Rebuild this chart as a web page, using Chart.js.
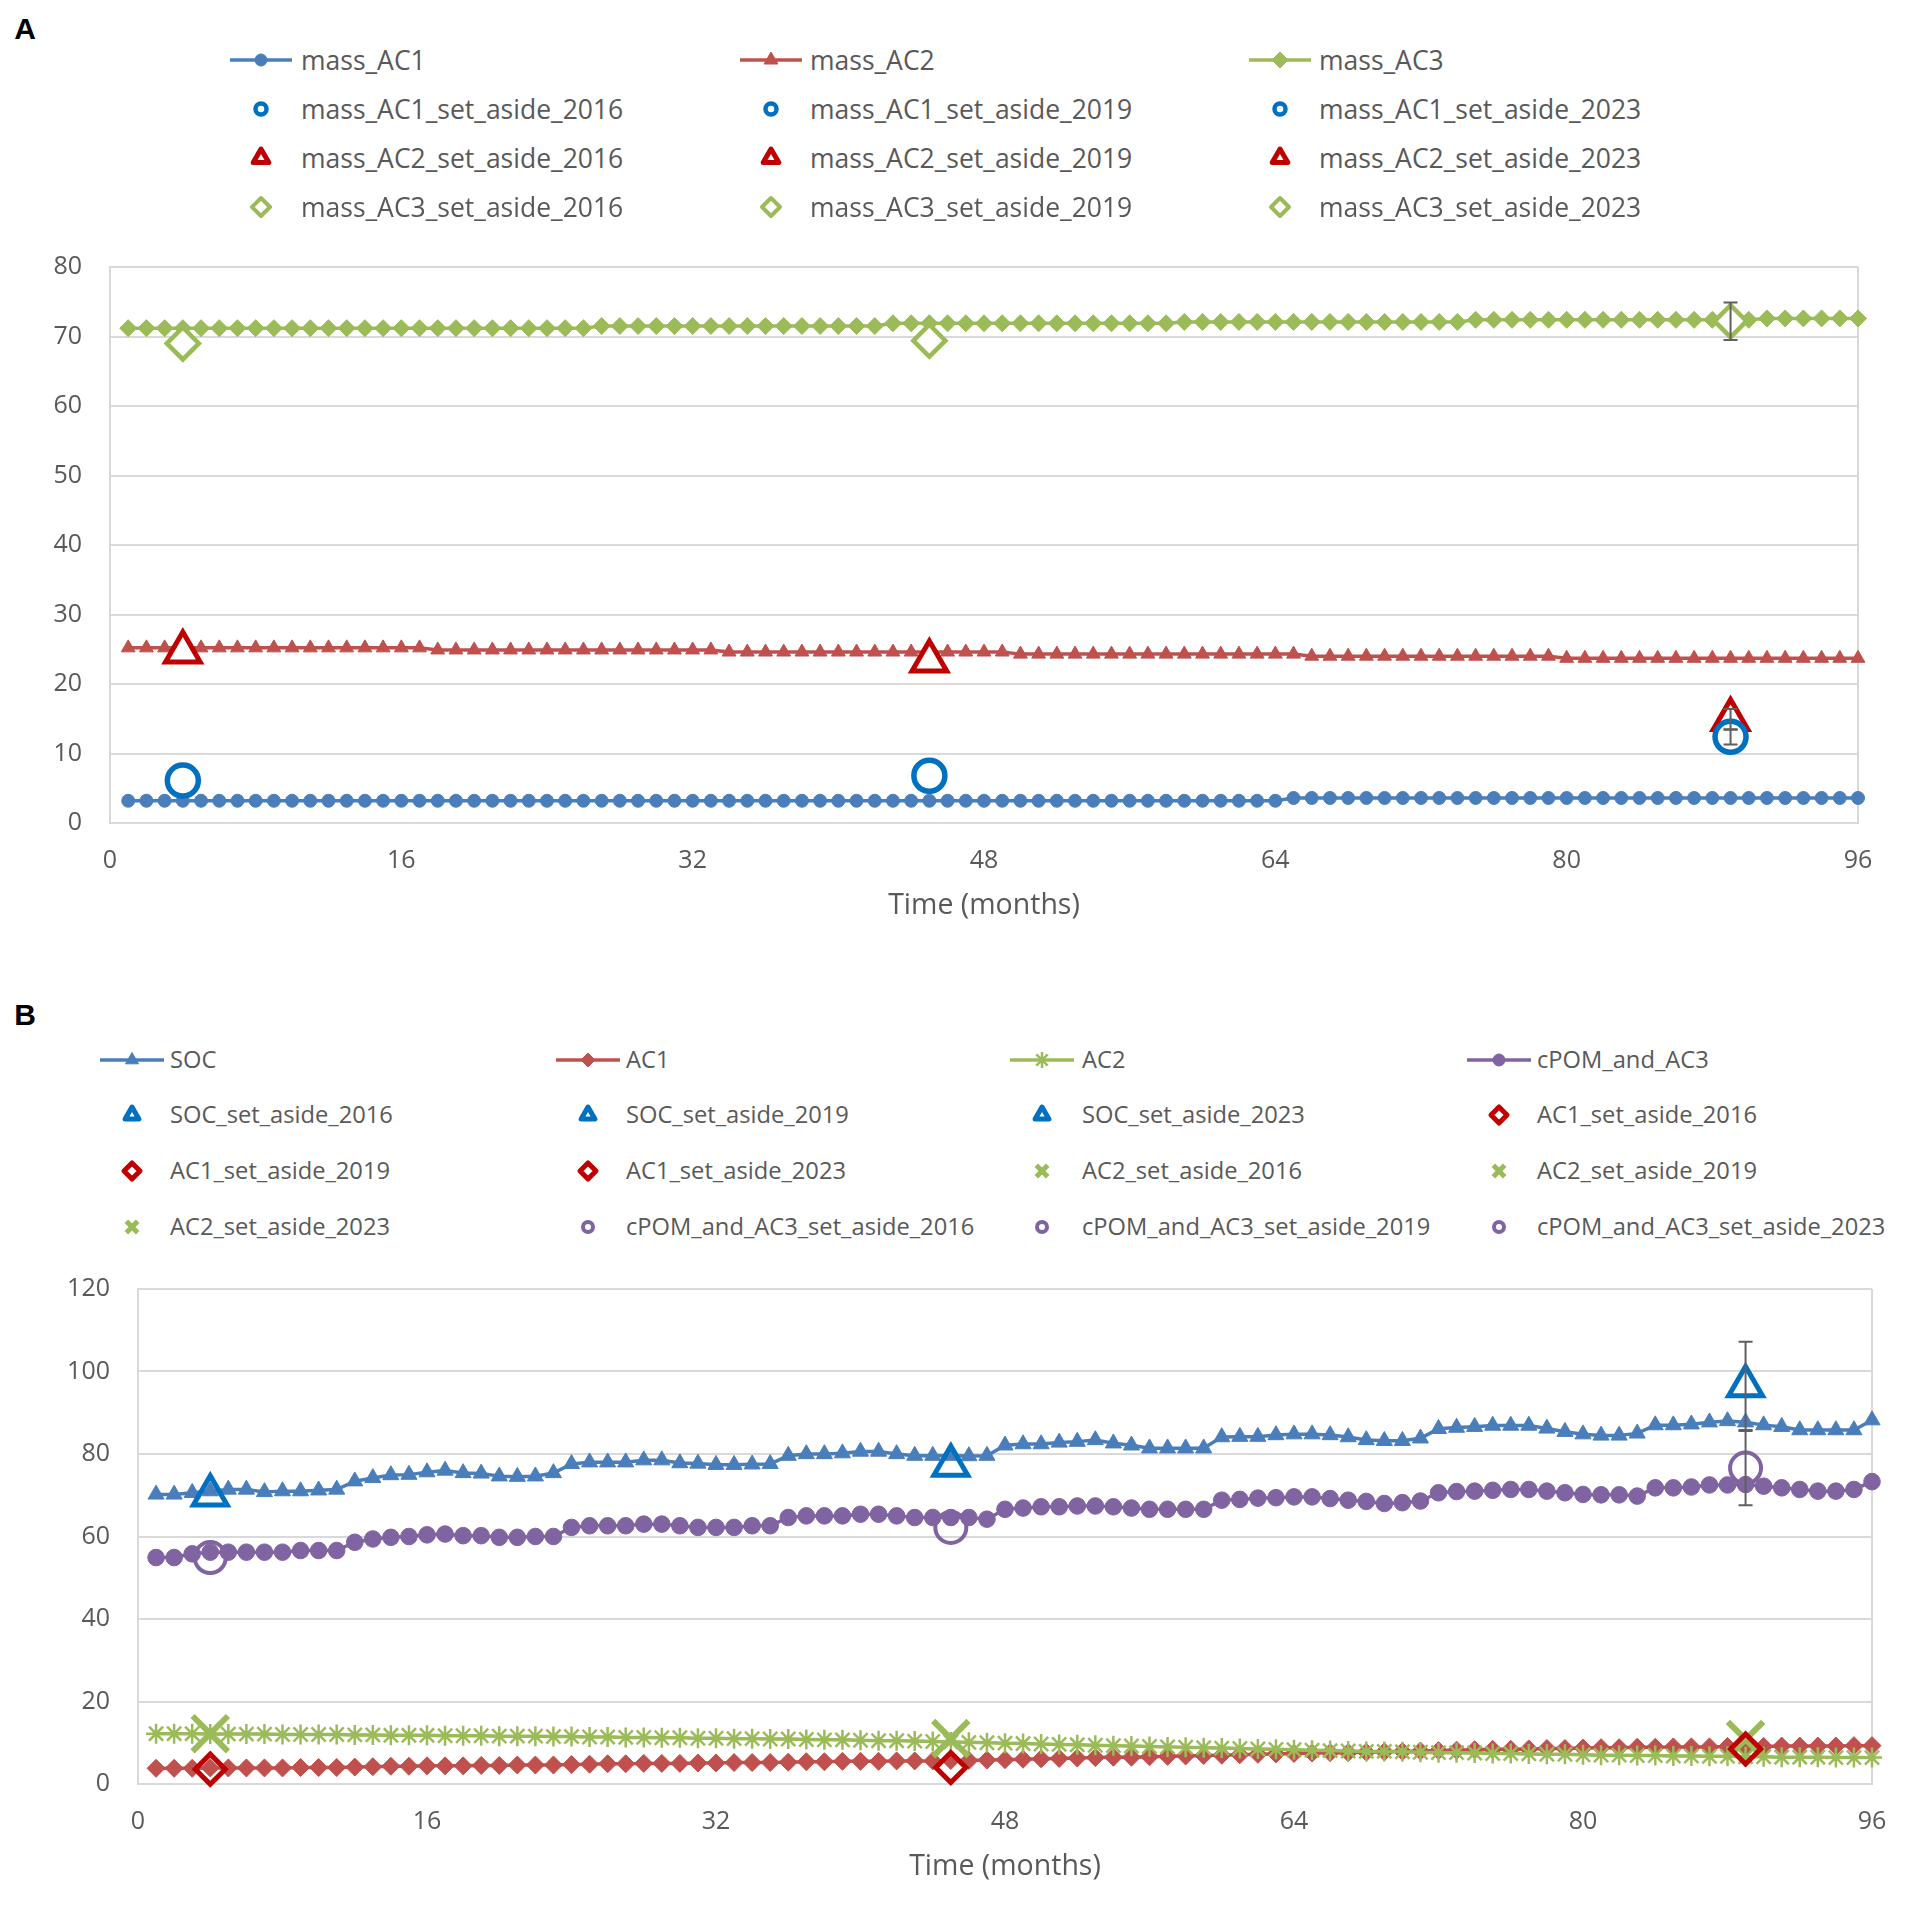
<!DOCTYPE html>
<html>
<head>
<meta charset="utf-8">
<title>Set-aside vs. modelled fractions</title>
<script src="https://cdn.jsdelivr.net/npm/chart.js@4.4.1/dist/chart.umd.min.js"></script>
<style>
  body { margin: 0; width: 1910px; height: 1906px; background: #fff; position: relative; overflow: hidden; font-family: "Open Sans", sans-serif; }
  .painel { position: absolute; font: bold 30px "Liberation Sans", Arial, sans-serif; color: #000; transform: translate(-50%, -50%); }
  canvas { position: absolute; left: 0; }
  .leg-simbolo { position: absolute; }
  .leg-texto { position: absolute; color: #595959; white-space: nowrap; line-height: 1; transform: translateY(-50%); }
</style>
</head>
<body>
<div class="painel" style="left:25px;top:29px">A</div>
<div class="painel" style="left:25px;top:1015px">B</div>
<canvas id="chartA" width="1910" height="699" style="top:224px"></canvas>
<canvas id="chartB" width="1910" height="638" style="top:1246px"></canvas>
<div id="legendas"></div>

<script>
// Eixos
const months = Array.from({ length: 96 }, (_, i) => i + 1);
const xTicks = [0, 16, 32, 48, 64, 80, 96];
const yTicksA = [0, 10, 20, 30, 40, 50, 60, 70, 80];
const yTicksB = [0, 20, 40, 60, 80, 100, 120];
const setAsideMonths = [4, 45, 89];
const setAsideYears = ["2016", "2019", "2023"];

// Painel A - massas modeladas (uma linha por ano)
const massAC1 = [
  3.2, 3.2, 3.2, 3.2, 3.2, 3.2, 3.2, 3.2, 3.2, 3.2, 3.2, 3.2,
  3.2, 3.2, 3.2, 3.2, 3.2, 3.2, 3.2, 3.2, 3.2, 3.2, 3.2, 3.2,
  3.2, 3.2, 3.2, 3.2, 3.2, 3.2, 3.2, 3.2, 3.2, 3.2, 3.2, 3.2,
  3.2, 3.2, 3.2, 3.2, 3.2, 3.2, 3.2, 3.2, 3.2, 3.2, 3.2, 3.2,
  3.2, 3.2, 3.2, 3.2, 3.2, 3.2, 3.2, 3.2, 3.2, 3.2, 3.2, 3.2,
  3.2, 3.2, 3.2, 3.2, 3.6, 3.6, 3.6, 3.6, 3.6, 3.6, 3.6, 3.6,
  3.6, 3.6, 3.6, 3.6, 3.6, 3.6, 3.6, 3.6, 3.6, 3.6, 3.6, 3.6,
  3.6, 3.6, 3.6, 3.6, 3.6, 3.6, 3.6, 3.6, 3.6, 3.6, 3.6, 3.6
];
const massAC2 = [
  25.2, 25.2, 25.2, 25.2, 25.2, 25.2, 25.2, 25.2, 25.2, 25.2, 25.2, 25.2,
  25.2, 25.2, 25.2, 25.2, 25.2, 24.9, 24.9, 24.9, 24.9, 24.9, 24.9, 24.9,
  24.9, 24.9, 24.9, 24.9, 24.9, 24.9, 24.9, 24.9, 24.9, 24.6, 24.6, 24.6,
  24.6, 24.6, 24.6, 24.6, 24.6, 24.6, 24.6, 24.6, 24.6, 24.6, 24.6, 24.6,
  24.6, 24.3, 24.3, 24.3, 24.3, 24.3, 24.3, 24.3, 24.3, 24.3, 24.3, 24.3,
  24.3, 24.3, 24.3, 24.3, 24.3, 24.0, 24.0, 24.0, 24.0, 24.0, 24.0, 24.0,
  24.0, 24.0, 24.0, 24.0, 24.0, 24.0, 24.0, 23.7, 23.7, 23.7, 23.7, 23.7,
  23.7, 23.7, 23.7, 23.7, 23.7, 23.7, 23.7, 23.7, 23.7, 23.7, 23.7, 23.7
];
const massAC3 = [
  71.2, 71.2, 71.2, 71.2, 71.2, 71.2, 71.2, 71.2, 71.2, 71.2, 71.2, 71.2,
  71.2, 71.2, 71.2, 71.2, 71.2, 71.2, 71.2, 71.2, 71.2, 71.2, 71.2, 71.2,
  71.2, 71.2, 71.5, 71.5, 71.5, 71.5, 71.5, 71.5, 71.5, 71.5, 71.5, 71.5,
  71.5, 71.5, 71.5, 71.5, 71.5, 71.5, 71.9, 71.9, 71.9, 71.9, 71.9, 71.9,
  71.9, 71.9, 71.9, 71.9, 71.9, 71.9, 71.9, 71.9, 71.9, 71.9, 72.1, 72.1,
  72.1, 72.1, 72.1, 72.1, 72.1, 72.1, 72.1, 72.1, 72.1, 72.1, 72.1, 72.1,
  72.1, 72.1, 72.4, 72.4, 72.4, 72.4, 72.4, 72.4, 72.4, 72.4, 72.4, 72.4,
  72.4, 72.4, 72.4, 72.4, 72.4, 72.4, 72.6, 72.6, 72.6, 72.6, 72.6, 72.6
];

// Painel A - amostras set aside (2016, 2019, 2023) e erros
const massAC1SetAside = [6.1, 6.8, 12.4];
const massAC1SetAsideErr = [0, 0, 1.1];
const massAC2SetAside = [24.6, 23.3, 14.9];
const massAC2SetAsideErr = [0, 0, 1.5];
const massAC3SetAside = [69.0, 69.4, 72.2];
const massAC3SetAsideErr = [0, 0, 2.7];

// Painel B - estoques modelados
const soc = [
  70.2, 70.2, 70.6, 71.0, 71.4, 71.4, 70.8, 71.0, 71.0, 71.2, 71.4, 73.4,
  74.2, 74.9, 75.0, 75.6, 76.0, 75.4, 75.3, 74.6, 74.5, 74.6, 75.4, 77.6,
  78.0, 78.0, 78.0, 78.5, 78.5, 77.8, 77.7, 77.4, 77.4, 77.5, 77.6, 79.6,
  80.0, 80.0, 80.2, 80.6, 80.6, 80.0, 79.6, 79.6, 79.6, 79.5, 79.6, 82.1,
  82.4, 82.4, 82.8, 83.0, 83.4, 82.6, 82.1, 81.4, 81.4, 81.4, 81.4, 84.1,
  84.2, 84.2, 84.6, 84.8, 84.8, 84.6, 84.1, 83.4, 83.2, 83.2, 83.8, 86.1,
  86.4, 86.6, 86.9, 86.9, 86.9, 86.2, 85.4, 84.8, 84.5, 84.5, 85.0, 87.0,
  87.0, 87.2, 87.7, 88.0, 87.7, 87.0, 86.6, 85.8, 85.8, 85.8, 85.8, 88.2
];
const ac1 = [
  3.8, 3.8, 3.8, 3.9, 3.9, 3.9, 3.9, 3.9, 4.0, 4.0, 4.0, 4.1,
  4.2, 4.3, 4.3, 4.4, 4.4, 4.4, 4.5, 4.5, 4.6, 4.6, 4.6, 4.7,
  4.8, 4.9, 4.9, 5.0, 5.0, 5.0, 5.1, 5.1, 5.2, 5.2, 5.2, 5.3,
  5.4, 5.4, 5.5, 5.5, 5.5, 5.6, 5.6, 5.6, 5.7, 5.7, 5.8, 5.9,
  6.0, 6.1, 6.2, 6.3, 6.4, 6.5, 6.5, 6.6, 6.7, 6.8, 6.9, 7.0,
  7.1, 7.2, 7.3, 7.4, 7.5, 7.6, 7.6, 7.7, 7.8, 7.9, 8.0, 8.1,
  8.2, 8.3, 8.4, 8.4, 8.5, 8.6, 8.6, 8.7, 8.8, 8.8, 8.9, 8.9,
  9.0, 9.0, 9.0, 9.1, 9.1, 9.1, 9.2, 9.2, 9.2, 9.2, 9.3, 9.3
];
const ac2 = [
  12.2, 12.2, 12.2, 12.1, 12.1, 12.1, 12.1, 12.0, 12.0, 12.0, 12.0, 11.9,
  11.9, 11.8, 11.8, 11.8, 11.7, 11.7, 11.7, 11.6, 11.6, 11.6, 11.5, 11.5,
  11.4, 11.4, 11.3, 11.3, 11.2, 11.2, 11.1, 11.1, 11.0, 11.0, 10.9, 10.9,
  10.8, 10.7, 10.7, 10.6, 10.5, 10.5, 10.4, 10.3, 10.2, 10.1, 10.0, 9.9,
  9.8, 9.7, 9.6, 9.5, 9.4, 9.3, 9.2, 9.1, 9.0, 8.9, 8.8, 8.7,
  8.6, 8.5, 8.4, 8.3, 8.2, 8.1, 8.0, 7.9, 7.9, 7.8, 7.7, 7.6,
  7.6, 7.5, 7.4, 7.4, 7.3, 7.2, 7.2, 7.1, 7.0, 7.0, 6.9, 6.9,
  6.8, 6.8, 6.7, 6.7, 6.6, 6.6, 6.5, 6.5, 6.5, 6.4, 6.4, 6.4
];
const cpomAC3 = [
  54.9, 54.9, 55.8, 56.2, 56.2, 56.2, 56.2, 56.2, 56.6, 56.6, 56.6, 58.6,
  59.4, 59.8, 60.0, 60.4, 60.6, 60.2, 60.2, 59.8, 59.8, 60.0, 60.0, 62.2,
  62.6, 62.6, 62.6, 63.0, 63.0, 62.6, 62.2, 62.2, 62.2, 62.6, 62.6, 64.6,
  65.0, 65.0, 65.0, 65.4, 65.4, 65.0, 64.6, 64.6, 64.6, 64.6, 64.2, 66.6,
  66.9, 67.2, 67.2, 67.4, 67.4, 67.2, 66.9, 66.6, 66.6, 66.6, 66.6, 68.8,
  69.0, 69.3, 69.4, 69.6, 69.6, 69.2, 68.8, 68.5, 68.0, 68.2, 68.6, 70.6,
  70.9, 71.0, 71.2, 71.4, 71.4, 71.0, 70.6, 70.2, 70.1, 70.1, 69.8, 71.8,
  71.8, 72.0, 72.5, 72.5, 72.6, 72.2, 71.8, 71.4, 71.0, 71.0, 71.4, 73.3
];

// Painel B - amostras set aside
const socSetAside = [70.0, 77.2, 96.5];
const socSetAsideErr = [0, 0, 10.7];
const ac1SetAside = [3.6, 4.0, 8.5];
const ac2SetAside = [12.2, 11.0, 10.8];
const cpomSetAside = [54.9, 62.2, 76.6];
const cpomSetAsideErr = [0, 0, 9.0];

Chart.defaults.font.family = "'Open Sans', sans-serif";
Chart.defaults.color = "#595959";

// Série modelada (linha + marcadores)
function serieLinha(label, valores, cor, estilo, raio, ordem, leg) {
  return {
    label,
    data: months.map((m, i) => ({ x: m, y: valores[i] })),
    borderColor: cor,
    backgroundColor: cor,
    borderWidth: 3.5,
    pointStyle: estilo,
    pointRadius: raio,
    pointBorderColor: cor,
    pointBackgroundColor: cor,
    pointBorderWidth: estilo === "star" ? 2.5 : 1,
    tension: 0,
    clip: false,
    order: ordem,
    leg: Object.assign({ linha: true, estilo, cor, cheio: true }, leg)
  };
}

// Ponto de amostra set aside (marcador vazado grande)
function serieSetAside(label, mes, valor, erro, cor, estilo, raio, borda, fundo, leg) {
  return {
    label,
    data: [{ x: mes, y: valor }],
    errors: [erro],
    showLine: false,
    borderColor: cor,
    backgroundColor: fundo,
    pointStyle: estilo,
    pointRadius: raio,
    pointBorderColor: cor,
    pointBackgroundColor: fundo,
    pointBorderWidth: borda,
    clip: false,
    order: 0,
    leg: Object.assign({ linha: false, estilo, cor, cheio: false }, leg)
  };
}

// Barras de erro desenhadas pelas escalas do gráfico
const errorBars = {
  id: "errorBars",
  afterDatasetsDraw(chart) {
    const { ctx, scales: { x, y } } = chart;
    ctx.save();
    ctx.strokeStyle = "#5f5f5f";
    ctx.lineWidth = 2;
    chart.data.datasets.forEach(ds => {
      if (!ds.errors) return;
      ds.data.forEach((p, i) => {
        const e = ds.errors[i];
        if (!e) return;
        const px = x.getPixelForValue(p.x);
        const top = y.getPixelForValue(p.y + e);
        const bot = y.getPixelForValue(p.y - e);
        ctx.beginPath();
        ctx.moveTo(px, top); ctx.lineTo(px, bot);
        ctx.moveTo(px - 7, top); ctx.lineTo(px + 7, top);
        ctx.moveTo(px - 7, bot); ctx.lineTo(px + 7, bot);
        ctx.stroke();
      });
    });
    ctx.restore();
  }
};

function opcoes(yMax, yTicks, yWidth, padTop, padRight) {
  return {
    responsive: false,
    animation: false,
    devicePixelRatio: 1,
    events: [],
    layout: { padding: { top: padTop, right: padRight, left: 0, bottom: 0 } },
    plugins: { legend: { display: false }, tooltip: { enabled: false } },
    scales: {
      x: {
        type: "linear", min: 0, max: 96,
        afterBuildTicks: s => { s.ticks = xTicks.map(v => ({ value: v })); },
        afterFit: s => { s.height = 100; },
        grid: { drawTicks: false, lineWidth: 2, color: c => (c.tick && c.tick.value === 96 ? "#d9d9d9" : "rgba(0,0,0,0)") },
        border: { display: true, color: "#d9d9d9", width: 2 },
        ticks: { padding: 23, font: { size: 25 }, color: "#595959", maxRotation: 0 },
        title: { display: true, text: "Time (months)", font: { size: 28.5 }, color: "#595959", padding: 0 }
      },
      y: {
        min: 0, max: yMax,
        afterBuildTicks: s => { s.ticks = yTicks.map(v => ({ value: v })); },
        afterFit: s => { s.width = yWidth; },
        grid: { drawTicks: false, lineWidth: 2, color: "#d9d9d9" },
        border: { display: true, color: "#d9d9d9", width: 2 },
        ticks: { padding: 28, font: { size: 25 }, color: "#595959" }
      }
    }
  };
}

// Painel A
const azul = "#4a7ebb", vermelho = "#c0504d", verde = "#9bbb59", roxo = "#8064a2";
const azulSA = "#0070c0", vermelhoSA = "#c00000";

const datasetsA = [
  serieLinha("mass_AC1", massAC1, azul, "circle", 6.5, 3, { r: 6 }),
  serieLinha("mass_AC2", massAC2, vermelho, "triangle", 8, 2, { r: 8 }),
  serieLinha("mass_AC3", massAC3, verde, "rectRot", 8.5, 1, { r: 8 })
];
setAsideYears.forEach((ano, i) => datasetsA.push(serieSetAside(`mass_AC1_set_aside_${ano}`, setAsideMonths[i], massAC1SetAside[i], massAC1SetAsideErr[i], azulSA, "circle", 15.5, 5.5, "#ffffff", { r: 5.5, bw: 4.5 })));
setAsideYears.forEach((ano, i) => datasetsA.push(serieSetAside(`mass_AC2_set_aside_${ano}`, setAsideMonths[i], massAC2SetAside[i], massAC2SetAsideErr[i], vermelhoSA, "triangle", 20, 5, "#ffffff", { r: 9, bw: 5 })));
setAsideYears.forEach((ano, i) => datasetsA.push(serieSetAside(`mass_AC3_set_aside_${ano}`, setAsideMonths[i], massAC3SetAside[i], massAC3SetAsideErr[i], verde, "rectRot", 16, 4.5, "#ffffff", { r: 9, bw: 4 })));

new Chart(document.getElementById("chartA"), {
  type: "line",
  data: { datasets: datasetsA },
  options: opcoes(80, yTicksA, 110, 26, 52),
  plugins: [errorBars]
});

// Painel B
const datasetsB = [
  serieLinha("SOC", soc, azul, "triangle", 9.3, 4, { r: 7.5 }),
  serieLinha("AC1", ac1, vermelho, "rectRot", 9, 3, { r: 7 }),
  serieLinha("AC2", ac2, verde, "star", 10, 2, { r: 8 }),
  serieLinha("cPOM_and_AC3", cpomAC3, roxo, "circle", 8.3, 1, { r: 6 })
];
setAsideYears.forEach((ano, i) => datasetsB.push(serieSetAside(`SOC_set_aside_${ano}`, setAsideMonths[i], socSetAside[i], socSetAsideErr[i], azulSA, "triangle", 19.5, 5, "rgba(255,255,255,0)", { r: 8, bw: 5 })));
setAsideYears.forEach((ano, i) => datasetsB.push(serieSetAside(`AC1_set_aside_${ano}`, setAsideMonths[i], ac1SetAside[i], 0, vermelhoSA, "rectRot", 15, 5, "rgba(255,255,255,0)", { r: 8, bw: 5 })));
setAsideYears.forEach((ano, i) => datasetsB.push(serieSetAside(`AC2_set_aside_${ano}`, setAsideMonths[i], ac2SetAside[i], 0, verde, "crossRot", 25, 6, "rgba(255,255,255,0)", { r: 8, bw: 5 })));
setAsideYears.forEach((ano, i) => datasetsB.push(serieSetAside(`cPOM_and_AC3_set_aside_${ano}`, setAsideMonths[i], cpomSetAside[i], cpomSetAsideErr[i], roxo, "circle", 15.5, 4, "rgba(255,255,255,0)", { r: 5, bw: 4 })));

new Chart(document.getElementById("chartB"), {
  type: "line",
  data: { datasets: datasetsB },
  options: opcoes(120, yTicksB, 138, 30, 38),
  plugins: [errorBars]
});

// Marcador em SVG para a legenda
function forma(estilo, cx, cy, r, cor, cheio, bw) {
  const fill = cheio ? cor : "#ffffff";
  const attrs = `fill="${fill}" stroke="${cor}" stroke-width="${bw}" stroke-linejoin="round"`;
  const p = (a, rr) => `${(cx + Math.sin(a) * rr).toFixed(1)},${(cy - Math.cos(a) * rr).toFixed(1)}`;
  const d = r * Math.SQRT1_2;
  const linha = (x1, y1, x2, y2) => `<line x1="${x1}" y1="${y1}" x2="${x2}" y2="${y2}" stroke="${cor}" stroke-width="${bw}"/>`;
  switch (estilo) {
    case "circle":
      return `<circle cx="${cx}" cy="${cy}" r="${r}" ${attrs}/>`;
    case "triangle":
      return `<polygon points="${p(0, r)} ${p(2 * Math.PI / 3, r)} ${p(4 * Math.PI / 3, r)}" ${attrs}/>`;
    case "rectRot":
      return `<polygon points="${cx},${cy - r} ${cx + r},${cy} ${cx},${cy + r} ${cx - r},${cy}" ${attrs}/>`;
    case "crossRot":
      return linha(cx - d, cy - d, cx + d, cy + d) + linha(cx - d, cy + d, cx + d, cy - d);
    case "star":
      return linha(cx - d, cy - d, cx + d, cy + d) + linha(cx - d, cy + d, cx + d, cy - d) + linha(cx, cy - r, cx, cy + r);
  }
  return "";
}

// Legenda em grade fixa (colunas como no original)
function desenharLegenda(datasets, cfg) {
  const box = document.getElementById("legendas");
  datasets.forEach((ds, i) => {
    const col = i % cfg.colunas;
    const lin = Math.floor(i / cfg.colunas);
    const cx = cfg.simboloX[col];
    const cy = cfg.linhasY[lin];
    const leg = ds.leg;
    const w = 2 * cfg.meiaLinha + 4, h = 34;
    let svg = `<svg class="leg-simbolo" width="${w}" height="${h}" style="left:${cx - w / 2}px;top:${cy - h / 2}px">`;
    if (leg.linha) svg += `<line x1="2" y1="${h / 2}" x2="${w - 2}" y2="${h / 2}" stroke="${leg.cor}" stroke-width="3.5"/>`;
    const bw = leg.linha ? (leg.estilo === "star" ? 2.5 : 1) : leg.bw;
    svg += forma(leg.estilo, w / 2, h / 2, leg.r, leg.cor, leg.cheio, bw);
    svg += "</svg>";
    box.insertAdjacentHTML("beforeend", svg +
      `<span class="leg-texto" style="left:${cfg.textoX[col]}px;top:${cy}px;font-size:${cfg.fonte}px">${ds.label}</span>`);
  });
}

desenharLegenda(datasetsA, {
  colunas: 3,
  linhasY: [60, 109, 158, 207],
  simboloX: [261, 771, 1280],
  textoX: [301, 810, 1319],
  meiaLinha: 31,
  fonte: 26.5
});

desenharLegenda(datasetsB, {
  colunas: 4,
  linhasY: [1060, 1115, 1171, 1227],
  simboloX: [132, 588, 1042, 1499],
  textoX: [170, 626, 1082, 1537],
  meiaLinha: 32,
  fonte: 23.7
});
</script>
</body>
</html>
